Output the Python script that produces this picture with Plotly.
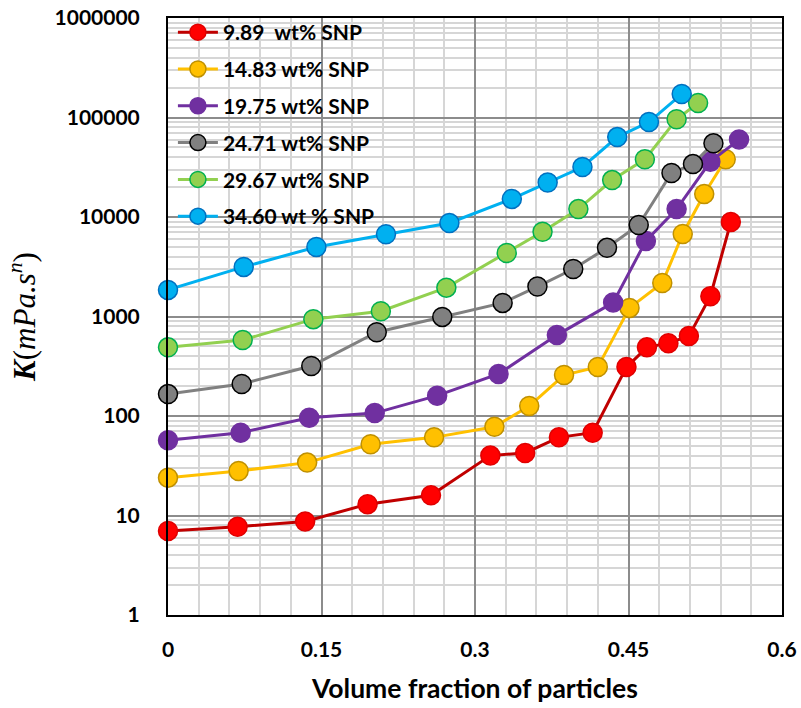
import plotly.graph_objects as go

# Consistency index K (mPa.s^n) versus particle volume fraction, per SNP loading
series_names = [
    "9.89\u00a0 wt% SNP",
    "14.83 wt% SNP",
    "19.75 wt% SNP",
    "24.71 wt% SNP",
    "29.67 wt% SNP",
    "34.60 wt % SNP",
]

x_989 = [0, 0.068, 0.134, 0.195, 0.257, 0.315, 0.349, 0.382, 0.415, 0.448, 0.468, 0.489, 0.509, 0.530, 0.550]
k_989 = [7.0, 7.7, 8.7, 13.0, 16.0, 40, 42.5, 61, 68, 310, 490, 540, 635, 1600, 8900]

x_1483 = [0, 0.069, 0.136, 0.198, 0.260, 0.319, 0.353, 0.387, 0.420, 0.451, 0.483, 0.503, 0.524, 0.545]
k_1483 = [24, 28, 34, 52, 61, 78, 126, 258, 311, 1220, 2170, 6750, 17000, 38000]

x_1975 = [0, 0.071, 0.138, 0.202, 0.263, 0.323, 0.380, 0.435, 0.467, 0.497, 0.530, 0.558]
k_1975 = [57, 68, 96, 107, 160, 265, 650, 1380, 5750, 12000, 36000, 60000]

x_2471 = [0, 0.072, 0.140, 0.204, 0.268, 0.327, 0.361, 0.396, 0.429, 0.460, 0.492, 0.513, 0.533]
k_2471 = [166, 210, 318, 695, 990, 1370, 2000, 3000, 4900, 8300, 27700, 34000, 55000]

x_2967 = [0, 0.073, 0.142, 0.208, 0.272, 0.331, 0.366, 0.401, 0.434, 0.466, 0.497, 0.518]
k_2967 = [490, 580, 940, 1130, 1950, 4350, 7100, 12000, 23500, 38000, 96000, 140000]

x_3460 = [0, 0.074, 0.145, 0.213, 0.275, 0.336, 0.371, 0.405, 0.439, 0.470, 0.502]
k_3460 = [1850, 3150, 5000, 6700, 8700, 15200, 22200, 31800, 63500, 90000, 172000]

x_data = [x_989, x_1483, x_1975, x_2471, x_2967, x_3460]
k_data = [k_989, k_1483, k_1975, k_2471, k_2967, k_3460]

line_colors = ["#C00000", "#FFC000", "#7030A0", "#808080", "#92D050", "#00B0F0"]
fill_colors = ["#FF0000", "#FFC000", "#7030A0", "#808080", "#92D050", "#00B0F0"]
edge_colors = ["#E00000", "#BF9000", "#7030A0", "#000000", "#00B050", "#0070C0"]

x_ticks = [0, 0.15, 0.3, 0.45, 0.6]
x_tick_text = ["0", "0.15", "0.3", "0.45", "0.6"]
y_ticks = [1, 10, 100, 1000, 10000, 100000, 1000000]
y_tick_text = ["1", "10", "100", "1000", "10000", "100000", "1000000"]

fig = go.Figure()
for i, name in enumerate(series_names):
    fig.add_trace(go.Scatter(
        x=x_data[i], y=k_data[i], name=name, mode="lines+markers",
        legendgroup=f"g{i}",
        cliponaxis=False,
        line=dict(color=line_colors[i], width=3),
        marker=dict(size=19, color=fill_colors[i],
                    line=dict(color=edge_colors[i], width=1.5)),
    ))

font_main = "Lato, 'Open Sans', sans-serif"

fig.update_layout(
    width=801, height=708,
    margin=dict(l=168, r=19, t=18, b=93),
    paper_bgcolor="white", plot_bgcolor="white",
    font=dict(family=font_main, color="black"),
    showlegend=True,
    legend=dict(
        x=0.008, y=1.01, xanchor="left", yanchor="top",
        bgcolor="rgba(0,0,0,0)",
        font=dict(family=font_main, size=21, color="black", weight="bold"),
        tracegroupgap=6.5, itemwidth=40,
    ),
    xaxis=dict(
        range=[0, 0.6], tickvals=x_ticks, ticktext=x_tick_text,
        tickfont=dict(family=font_main, size=21, weight="bold"),
        showline=True, linecolor="black", linewidth=2, mirror=True,
        showgrid=True, gridcolor="#8c8c8c", gridwidth=1.5,
        zeroline=False, ticks="", ticklabelstandoff=15, automargin=False,
        minor=dict(dtick=0.03, tick0=0, showgrid=True, gridcolor="#d6d6d6", gridwidth=1.5),
        title=dict(text="Volume fraction of particles",
                   font=dict(family=font_main, size=26.5, weight="bold"), standoff=19),
    ),
    yaxis=dict(
        type="log", range=[0, 6], tickvals=y_ticks, ticktext=y_tick_text,
        tickfont=dict(family=font_main, size=21, weight="bold"),
        showline=True, linecolor="black", linewidth=2, mirror=True,
        showgrid=True, gridcolor="#8c8c8c", gridwidth=1.5,
        zeroline=False, ticks="", ticklabelstandoff=22, automargin=False,
        minor=dict(dtick="D1", showgrid=True, gridcolor="#d6d6d6", gridwidth=1.5),
        title=dict(text="<b><i>K</i></b>(<i>mPa.s<sup>n</sup></i>)",
                   font=dict(family="'Liberation Serif', serif", size=31), standoff=10),
    ),
)

fig.write_html("out.html")
